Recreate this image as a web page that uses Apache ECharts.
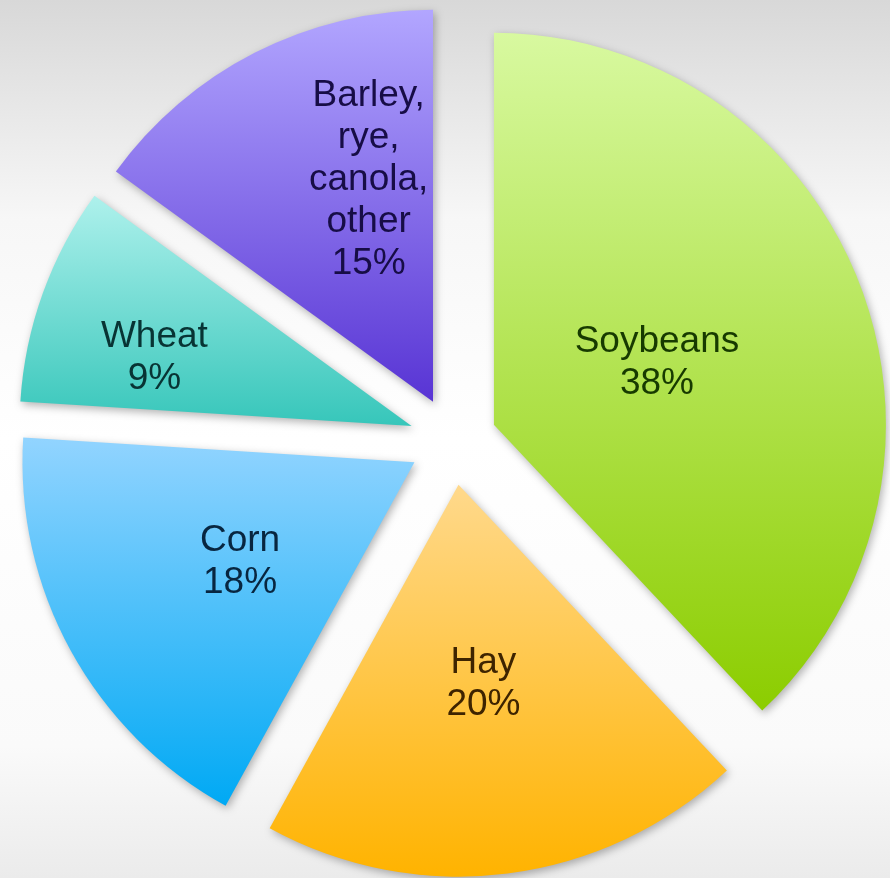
<!DOCTYPE html>
<html>
<head>
<meta charset="utf-8">
<script src="https://cdn.jsdelivr.net/npm/echarts@6/dist/echarts.min.js"></script>
<style>
  html, body { margin: 0; padding: 0; }
  #main { width: 890px; height: 878px; }
</style>
</head>
<body>
<div id="main"></div>
<script>
// data
const crops = ['Soybeans', 'Hay', 'Corn', 'Wheat', 'Barley, rye, canola, other'];
const shares = [38, 20, 18, 9, 15];

// slice colours (top / bottom of gradient) and label colours
const topColors = ['#d8f9a0', '#ffd98c', '#92d4ff', '#aef1ec', '#b2a6ff'];
const bottomColors = ['#8ccd00', '#ffb300', '#00a9f4', '#36c6ba', '#5834d4'];
const textColors = ['#173a00', '#3e2400', '#082640', '#083434', '#170d46'];

// nudges for the inside labels (px)
const labelNudge = [[-22, 11], [0, 2], [0, 4], [-70, -1], [26, -45]];

const chart = echarts.init(document.getElementById('main'));

const pieData = crops.map((name, i) => ({
    name: name,
    value: shares[i],
    selected: true,
    itemStyle: {
        color: new echarts.graphic.LinearGradient(0, 0, 0, 1, [
            { offset: 0, color: topColors[i] },
            { offset: 1, color: bottomColors[i] }
        ])
    },
    label: { color: textColors[i] }
}));

const option = {
    animation: false,
    backgroundColor: new echarts.graphic.LinearGradient(0, 0, 0, 1, [
        { offset: 0, color: '#d8d8d8' },
        { offset: 0.25, color: '#f7f7f7' },
        { offset: 0.5, color: '#ffffff' },
        { offset: 0.85, color: '#fafafa' },
        { offset: 1, color: '#ebebeb' }
    ]),
    series: [{
        type: 'pie',
        center: [453, 441],
        radius: [0, 392],
        startAngle: 90,
        clockwise: true,
        selectedMode: 'multiple',
        selectedOffset: 44,
        emphasis: { disabled: true },
        itemStyle: {
            shadowBlur: 8,
            shadowOffsetX: 2,
            shadowOffsetY: 3,
            shadowColor: 'rgba(0,0,0,0.3)'
        },
        label: {
            position: 'inside',
            fontFamily: 'Liberation Sans, Arial, sans-serif',
            fontSize: 37,
            lineHeight: 42,
            align: 'center',
            formatter: p => p.name.split(', ').join(',\n') + '\n' + p.value + '%'
        },
        labelLine: { show: false },
        labelLayout: p => ({ dx: labelNudge[p.dataIndex][0], dy: labelNudge[p.dataIndex][1] }),
        data: pieData
    }]
};

chart.setOption(option);
</script>
</body>
</html>
